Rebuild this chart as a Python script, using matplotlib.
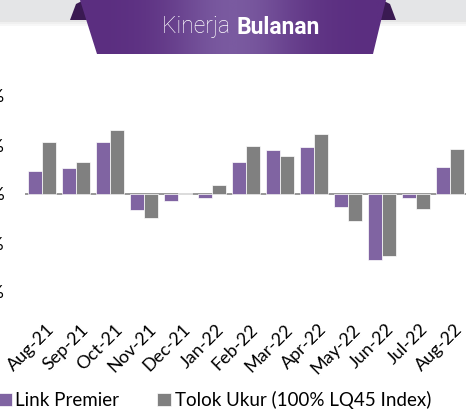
import numpy as np
import matplotlib
matplotlib.use("Agg")
import matplotlib.pyplot as plt
import matplotlib.transforms as mtransforms
from matplotlib.patches import Polygon

plt.rcParams["font.family"] = ["Lato", "DejaVu Sans"]

# monthly returns (%)
months = ["Aug-21", "Sep-21", "Oct-21", "Nov-21", "Dec-21", "Jan-22", "Feb-22",
          "Mar-22", "Apr-22", "May-22", "Jun-22", "Jul-22", "Aug-22"]
link_premier = [2.3, 2.65, 5.3, -1.6, -0.75, -0.4, 3.3, 4.5, 4.75, -1.3, -6.7, -0.4, 2.8]
tolok_ukur = [5.3, 3.3, 6.5, -2.4, 0.1, 0.9, 4.9, 3.85, 6.15, -2.75, -6.3, -1.5, 4.55]
y_ticks = [-10, -5, 0, 5, 10]
y_ticklabels = ["-10%", "-5%", "0%", "5%", "10%"]
legend_labels = ["Link Premier", "Tolok Ukur (100% LQ45 Index)"]

PURPLE = "#8064a2"
GREY = "#808080"

W, H = 466, 412
fig = plt.figure(figsize=(W / 100, H / 100), dpi=100)

# ---- banner -------------------------------------------------------------
bax = fig.add_axes([0, 1 - 62 / H, 1, 62 / H])
bax.set_xlim(0, W)
bax.set_ylim(62, 0)
bax.axis("off")
bax.add_patch(plt.Rectangle((0, 0), W, 20, color="#e4e5e7", lw=0, zorder=0))
for k, a in enumerate([0.10, 0.06, 0.03]):
    bax.add_patch(plt.Rectangle((0, 20 + k * 2), W, 2, color="black", alpha=a, lw=0, zorder=0))
# curled ends
bax.add_patch(Polygon([(70, 20), (76, 4), (84, 0), (90, 20)], closed=True,
                      color="#3a1a52", lw=0, zorder=1))
bax.add_patch(Polygon([(376, 20), (382, 0), (390, 4), (396, 20)], closed=True,
                      color="#3a1a52", lw=0, zorder=1))
ribbon = Polygon([(80, 0), (386, 0), (373, 54), (97, 54)], closed=True,
                 facecolor="none", lw=0)
bax.add_patch(ribbon)
xx = np.linspace(-1, 1, 300)
grad = np.exp(-(xx ** 2) / 0.18)[None, :]
cmap = matplotlib.colors.LinearSegmentedColormap.from_list("rib", ["#5b2e80", "#7a5aa0"])
im = bax.imshow(grad, extent=(80, 386, 54, 0), cmap=cmap, aspect="auto", zorder=2)
im.set_clip_path(ribbon)
bax.text(236, 27, "Kinerja ", ha="right", va="center", color="white",
         fontsize=16.5, family="Roboto", fontweight="light", zorder=3)
bax.text(236, 27, "Bulanan", ha="left", va="center", color="white",
         fontsize=16.5, family="Roboto", fontweight="bold", zorder=3)

# ---- chart --------------------------------------------------------------
ax = fig.add_axes([25 / W, 1 - 292 / H, 442 / W, 196 / H])
x = np.arange(len(months))
w = 0.4
b1 = ax.bar(x - 0.2, link_premier, w, color=PURPLE, edgecolor="white", linewidth=0.5,
            label=legend_labels[0])
b2 = ax.bar(x + 0.2, tolok_ukur, w, color=GREY, edgecolor="white", linewidth=0.5,
            label=legend_labels[1])
ax.axhline(0, color="#868686", lw=1.2, zorder=0)
ax.set_xlim(-0.5, len(months) - 0.5)
ax.set_ylim(-10, 10)
ax.set_yticks(y_ticks)
ax.set_yticklabels(y_ticklabels, fontsize=13)
ax.tick_params(axis="y", length=0, pad=14.5)
ax.set_xticks(x)
ax.set_xticklabels(months, rotation=45, ha="right", rotation_mode="anchor", fontsize=13)
ax.tick_params(axis="x", length=0, pad=21)
shift = mtransforms.ScaledTranslation(0.04, 0, fig.dpi_scale_trans)
for lab in ax.get_xticklabels():
    lab.set_transform(lab.get_transform() + shift)
for s in ax.spines.values():
    s.set_visible(False)

fig.legend(handles=[b1, b2], labels=legend_labels, loc="center left",
           bbox_to_anchor=(-0.005, 1 - 400 / H), ncol=2, frameon=False,
           fontsize=13.5, handlelength=0.75, handleheight=0.75, handletextpad=0.2,
           columnspacing=2.0, borderpad=0, borderaxespad=0)

fig.savefig("out.png", dpi=100)
